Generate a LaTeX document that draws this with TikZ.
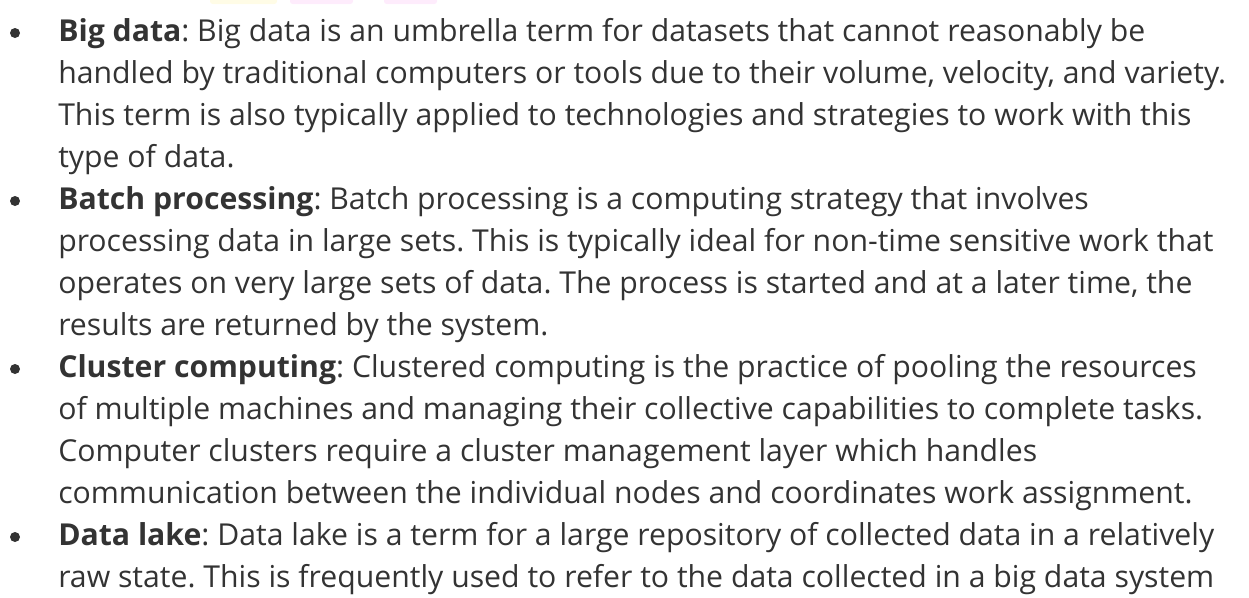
\documentclass[tikz,border=0pt]{standalone}
\usepackage{fontspec}
\setmainfont{Open Sans}
\usetikzlibrary{positioning}
\definecolor{textgray}{RGB}{51,51,51}
\definecolor{paleyellow}{RGB}{255,252,230}
\definecolor{palepink}{RGB}{254,236,252}

\begin{document}
\begin{tikzpicture}[
    x=0.75pt, y=-0.75pt,
    line/.style={anchor=base west, inner sep=0pt, text=textgray, font=\fontsize{22.65}{27}\selectfont\frenchspacing},
    dot/.style={circle, fill=textgray, inner sep=0pt, minimum size=7.5pt},
    sliver/.style={rounded corners=2pt}
]
\useasboundingbox (0,0) rectangle (1249,597);

% faint watermark slivers at the top edge
\fill[sliver, paleyellow] (210,-6) rectangle (277,4);
\fill[sliver, palepink] (290,-6) rectangle (353,4);
\fill[sliver, palepink] (384,-6) rectangle (437,4);

% Big data
\node[dot] (b1) at (15,33) {};
\node[line] (l1) at (58,41) {\textbf{Big data}: Big data is an umbrella term for datasets that cannot reasonably be};
\node[line] (l2) at (58,83) {handled by traditional computers or tools due to their volume, velocity, and variety.};
\node[line] (l3) at (58,125) {This term is also typically applied to technologies and strategies to work with this};
\node[line] (l4) at (58,167) {type of data.};

% Batch processing
\node[dot] (b2) at (15,201) {};
\node[line] (l5) at (58,209) {\textbf{Batch processing}: Batch processing is a computing strategy that involves};
\node[line] (l6) at (58,251) {processing data in large sets. This is typically ideal for non-time sensitive work that};
\node[line] (l7) at (58,293) {operates on very large sets of data. The process is started and at a later time, the};
\node[line] (l8) at (58,335) {results are returned by the system.};

% Cluster computing
\node[dot] (b3) at (15,369) {};
\node[line] (l9) at (58,377) {\textbf{Cluster computing}: Clustered computing is the practice of pooling the resources};
\node[line] (l10) at (58,419) {of multiple machines and managing their collective capabilities to complete tasks.};
\node[line] (l11) at (58,461) {Computer clusters require a cluster management layer which handles};
\node[line] (l12) at (58,503) {communication between the individual nodes and coordinates work assignment.};

% Data lake
\node[dot] (b4) at (15,537) {};
\node[line] (l13) at (58,545) {\textbf{Data lake}: Data lake is a term for a large repository of collected data in a relatively};
\node[line] (l14) at (58,587) {raw state. This is frequently used to refer to the data collected in a big data system};

\end{tikzpicture}
\end{document}
